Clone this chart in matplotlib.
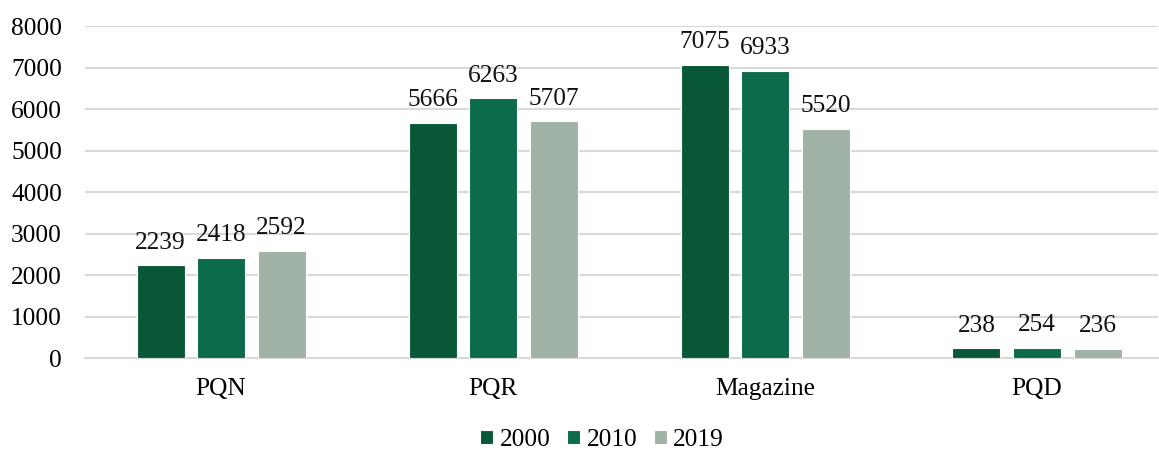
import matplotlib
matplotlib.use("Agg")
import matplotlib.pyplot as plt
import numpy as np

categories = ["PQN", "PQR", "Magazine", "PQD"]
series_names = ["2000", "2010", "2019"]
values_2000 = [2239, 5666, 7075, 238]
values_2010 = [2418, 6263, 6933, 254]
values_2019 = [2592, 5707, 5520, 236]
colors = ["#085838", "#0C6B48", "#A0B1A6"]
yticks = [0, 1000, 2000, 3000, 4000, 5000, 6000, 7000, 8000]

plt.rcParams['font.family'] = ['Liberation Serif', 'DejaVu Serif']
FS = 18.3

W, H = 1159, 450
fig = plt.figure(figsize=(W/100, H/100), dpi=100)
left, right = 85, 1158
top, bottom = 26.3, 358.3
ax = fig.add_axes([left/W, (H-bottom)/H, (right-left)/W, (bottom-top)/H])

x = np.arange(len(categories))
unit = 272.0
bw = 48/unit
step = 60.5/unit
all_vals = [values_2000, values_2010, values_2019]
for i, (name, vals, c) in enumerate(zip(series_names, all_vals, colors)):
    pos = x + (i-1)*step
    bars = ax.bar(pos, vals, width=bw, color=c, edgecolor='white', linewidth=0.8,
                  label=name, zorder=3)
    for b, v in zip(bars, vals):
        ax.annotate(str(v), (b.get_x()+b.get_width()/2, v), xytext=(0, 8.5),
                    textcoords='offset points', ha='center', va='bottom',
                    fontsize=FS, color='#111111')

ax.set_xlim(-0.5, -0.5 + (right-left)/unit)
ax.set_ylim(0, 8000)
ax.set_yticks(yticks)
ax.set_yticklabels([str(t) for t in yticks], fontsize=FS)
ax.set_xticks(x)
ax.set_xticklabels(categories, fontsize=FS)
ax.tick_params(axis='y', length=0, pad=16.5)
ax.tick_params(axis='x', length=0, pad=14.5)
ax.grid(axis='y', color='#D9D9D9', linewidth=1.5, zorder=0)
for s in ['top', 'right', 'left']:
    ax.spines[s].set_visible(False)
ax.spines['bottom'].set_color('#D9D9D9')
ax.spines['bottom'].set_linewidth(1.5)
ax.set_axisbelow(True)

fig.legend(loc='center', bbox_to_anchor=(602/W, (H-440)/H), ncol=3, frameon=False,
           fontsize=FS, handlelength=0.52, handleheight=0.52, handletextpad=0.25,
           columnspacing=0.65, borderaxespad=0)

fig.savefig("out.png", dpi=100)
